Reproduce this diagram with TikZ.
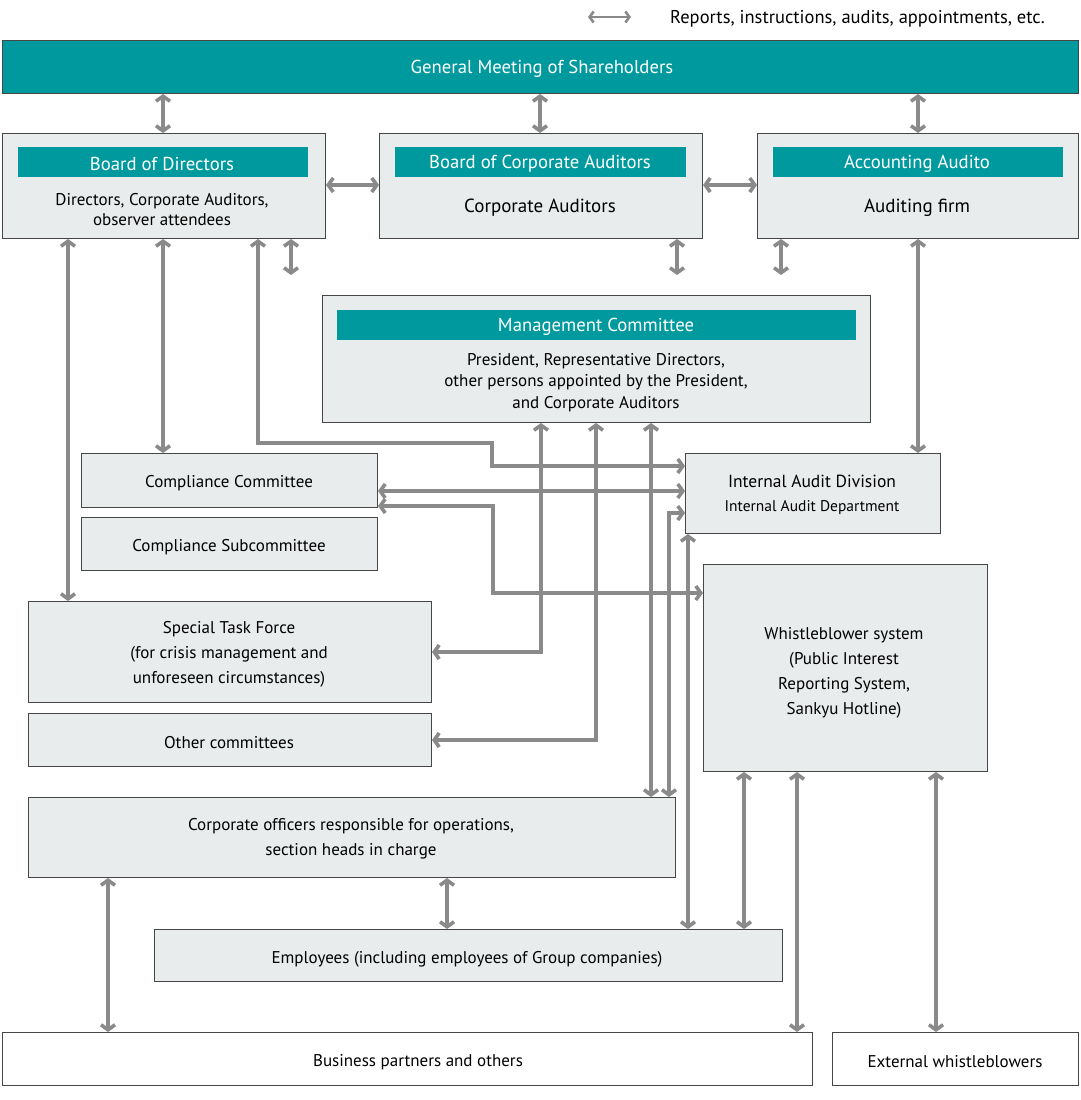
\documentclass[tikz,border=0pt]{standalone}
\usepackage{fontspec}
\setmainfont{PT Sans}
\usetikzlibrary{arrows.meta}
\definecolor{tealc}{RGB}{0,154,158}
\definecolor{boxfill}{RGB}{233,236,236}
\definecolor{boxline}{RGB}{70,70,70}
\definecolor{arrowgray}{RGB}{138,138,138}
\newcommand{\fsbody}{\fontsize{17}{21.5}\selectfont}
\newcommand{\fsbodyw}{\fontsize{17}{25}\selectfont}
\newcommand{\fshead}{\fontsize{18.7}{22}\selectfont}
\newcommand{\fsbig}{\fontsize{19}{22}\selectfont}
\tikzset{
  box/.style={draw=boxline, fill=boxfill, line width=1pt, inner sep=0pt, anchor=north west},
  wbox/.style={box, fill=white},
  hdr/.style={fill=tealc, inner sep=0pt, anchor=north west},
  lbl/.style={inner sep=0pt, align=center, font=\fsbody, yshift=-2pt},
  wlbl/.style={lbl, text=white, font=\fshead},
  conn/.style={draw=arrowgray, line width=3.6pt, line join=miter,
    {Straight Barb[length=5pt,width=14pt]}-{Straight Barb[length=5pt,width=14pt]}},
  legconn/.style={draw=arrowgray, line width=2.6pt,
    {Straight Barb[length=4pt,width=11pt]}-{Straight Barb[length=4pt,width=11pt]}},
}
\begin{document}
\begin{tikzpicture}[x=1pt,y=-1pt]
\useasboundingbox (0,0) rectangle (1080,1100);
% legend
\coordinate (legA) at (588,17);
\coordinate (legB) at (631,17);
\draw[legconn] (legA) -- (legB);
\node[lbl, anchor=west, font=\fontsize{18.5}{22}\selectfont] (legT) at (670,17) {Reports, instructions, audits, appointments, etc.};
% top
\node[box, fill=tealc, minimum width=1076pt, minimum height=53pt] (gms) at (2,40) {};
\node[wlbl] (gmsT) at (542,67) {General Meeting of Shareholders};
\node[box, minimum width=323pt, minimum height=105pt] (bod) at (2,133) {};
\node[hdr, minimum width=290pt, minimum height=30pt] (bodh) at (18,147) {};
\node[wlbl] (bodhT) at (162,162) {Board of Directors};
\node[lbl, font=\fontsize{17}{20}\selectfont] (bodT) at (162,208) {Directors, Corporate Auditors,\\observer attendees};
\node[box, minimum width=323pt, minimum height=105pt] (bca) at (379,133) {};
\node[hdr, minimum width=291pt, minimum height=30pt] (bcah) at (395,147) {};
\node[wlbl] (bcahT) at (540,162) {Board of Corporate Auditors};
\node[lbl, font=\fsbig] (bcaT) at (540,206) {Corporate Auditors};
\node[box, minimum width=321pt, minimum height=105pt] (aa) at (757,133) {};
\node[hdr, minimum width=290pt, minimum height=30pt] (aah) at (773,147) {};
\node[wlbl] (aahT) at (917,162) {Accounting Audito};
\node[lbl, font=\fsbig] (aaT) at (917,206) {Auditing firm};
% management committee
\node[box, minimum width=548pt, minimum height=127pt] (mc) at (322,295) {};
\node[hdr, minimum width=519pt, minimum height=30pt] (mch) at (337,310) {};
\node[wlbl] (mchT) at (596,325) {Management Committee};
\node[lbl] (mcT) at (596,380.5) {President, Representative Directors,\\other persons appointed by the President,\\and Corporate Auditors};
% middle
\node[box, minimum width=296pt, minimum height=54pt] (cc) at (81,453) {};
\node[lbl] (ccT) at (229,481) {Compliance Committee};
\node[box, minimum width=296pt, minimum height=53pt] (cs) at (81,517) {};
\node[lbl] (csT) at (229,545) {Compliance Subcommittee};
\node[box, minimum width=255pt, minimum height=80pt] (iad) at (685,453) {};
\node[lbl, font=\fontsize{17.5}{21}\selectfont] (iadT1) at (812,479) {Internal Audit Division};
\node[lbl, font=\fontsize{15.5}{20}\selectfont] (iadT2) at (812,506) {Internal Audit Department};
\node[box, minimum width=403pt, minimum height=101pt] (stf) at (28,601) {};
\node[lbl, font=\fsbodyw] (stfT) at (229,652) {Special Task Force\\(for crisis management and\\unforeseen circumstances)};
\node[box, minimum width=284pt, minimum height=207pt] (wb) at (703,564) {};
\node[lbl, font=\fsbodyw] (wbT) at (844,670.5) {Whistleblower system\\(Public Interest\\Reporting System,\\Sankyu Hotline)};
\node[box, minimum width=403pt, minimum height=53pt] (oc) at (28,713) {};
\node[lbl] (ocT) at (229,741) {Other committees};
\node[box, minimum width=647pt, minimum height=80pt] (co) at (28,797) {};
\node[lbl, font=\fsbodyw] (coT) at (351,836.5) {Corporate officers responsible for operations,\\section heads in charge};
\node[box, minimum width=628pt, minimum height=52pt] (emp) at (154,929) {};
\node[lbl] (empT) at (467,957) {Employees (including employees of Group companies)};
\node[wbox, minimum width=810pt, minimum height=53pt] (bp) at (2,1032) {};
\node[lbl] (bpT) at (418,1060) {Business partners and others};
\node[wbox, minimum width=246pt, minimum height=53pt] (ext) at (832,1032) {};
\node[lbl] (extT) at (955,1060) {External whistleblowers};
% connectors
\draw[conn] (163,0 |- gms.south) -- (163,0 |- bod.north);
\draw[conn] (540,0 |- gms.south) -- (540,0 |- bca.north);
\draw[conn] (918,0 |- gms.south) -- (918,0 |- aa.north);
\draw[conn] (bod.east |- 0,185) -- (bca.west |- 0,185);
\draw[conn] (bca.east |- 0,185) -- (aa.west |- 0,185);
\draw[conn] (68,0 |- bod.south) -- (68,0 |- stf.north);
\draw[conn] (163,0 |- bod.south) -- (163,0 |- cc.north);
\draw[conn] (258,0 |- bod.south) -- (258,443) -- (492,443) -- (492,466) -- (iad.west |- 0,466);
\coordinate (e1) at (291,275);
\coordinate (e2) at (677,275);
\coordinate (e3) at (781,275);
\draw[conn] (291,0 |- bod.south) -- (e1);
\draw[conn] (677,0 |- bca.south) -- (e2);
\draw[conn] (781,0 |- aa.south) -- (e3);
\draw[conn] (918,0 |- aa.south) -- (918,0 |- iad.north);
\draw[conn] (cc.east |- 0,491) -- (iad.west |- 0,491);
\draw[conn] (cc.east |- 0,506) -- (493,506) -- (493,593) -- (wb.west |- 0,593);
\draw[conn] (541,0 |- mc.south) -- (541,652) -- (stf.east |- 0,652);
\draw[conn] (596,0 |- mc.south) -- (596,740) -- (oc.east |- 0,740);
\draw[conn] (651,0 |- mc.south) -- (651,0 |- co.north);
\draw[conn] (iad.west |- 0,513) -- (669,513) -- (669,0 |- co.north);
\draw[conn] (688,0 |- iad.south) -- (688,0 |- emp.north);
\draw[conn] (744,0 |- wb.south) -- (744,0 |- emp.north);
\draw[conn] (797,0 |- wb.south) -- (797,0 |- bp.north);
\draw[conn] (936,0 |- wb.south) -- (936,0 |- ext.north);
\draw[conn] (108,0 |- co.south) -- (108,0 |- bp.north);
\draw[conn] (447,0 |- co.south) -- (447,0 |- emp.north);
\end{tikzpicture}
\end{document}
